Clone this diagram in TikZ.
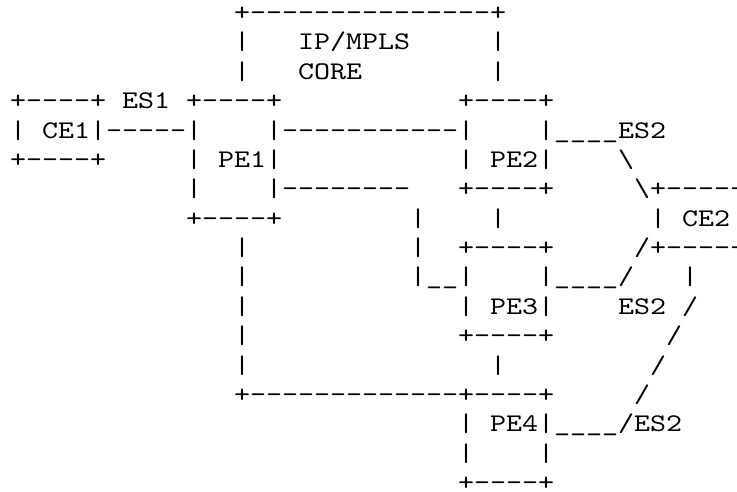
\documentclass[tikz,border=0pt]{standalone}
\usepackage{fontspec}
\setmonofont{lmmono10-regular.otf}[FakeStretch=1.2]
\tikzset{asc/.style={anchor=base west, inner sep=0pt, outer sep=0pt, text=black,
  font=\ttfamily\fontsize{25.4pt}{29.4pt}\selectfont}}
\newcommand\seg[4]{\node[asc] (#1) at (#3+0.625, #2+0.698) {#4};}
\begin{document}
\begin{tikzpicture}[x=16pt, y=-29.375pt]
\useasboundingbox (0,0) rectangle (46.0625,16.7149);
\clip (0,0) rectangle (46.0625,16.7149);
% row 0-2 : IP/MPLS core
\seg{r0a}{0}{14}{+---------------+}
\seg{r1a}{1}{14}{|}
\seg{r1b}{1}{18}{IP/MPLS}
\seg{r1c}{1}{30}{|}
\seg{r2a}{2}{14}{|}
\seg{r2b}{2}{18}{CORE}
\seg{r2c}{2}{30}{|}
% row 3
\seg{r3a}{3}{0}{+----+ ES1 +----+}
\seg{r3b}{3}{28}{+----+}
% row 4
\seg{r4a}{4}{0}{| CE1|-----|}
\seg{r4b}{4}{16}{|-----------|}
\seg{r4c}{4}{33}{|\_\_\_\_ES2}
% row 5
\seg{r5a}{5}{0}{+----+}
\seg{r5b}{5}{11}{| PE1|}
\seg{r5c}{5}{28}{| PE2|}
\seg{r5d}{5}{38}{\textbackslash}
% row 6
\seg{r6a}{6}{11}{|}
\seg{r6b}{6}{16}{|--------}
\seg{r6c}{6}{28}{+----+}
\seg{r6d}{6}{39}{\textbackslash+-----}
% row 7
\seg{r7a}{7}{11}{+----+}
\seg{r7b}{7}{25}{|}
\seg{r7c}{7}{30}{|}
\seg{r7d}{7}{40}{| CE2}
% row 8
\seg{r8a}{8}{14}{|}
\seg{r8b}{8}{25}{|}
\seg{r8c}{8}{28}{+----+}
\seg{r8d}{8}{39}{/+-----}
% row 9
\seg{r9a}{9}{14}{|}
\seg{r9b}{9}{25}{|\_\_|}
\seg{r9c}{9}{33}{|\_\_\_\_/}
\seg{r9d}{9}{42}{|}
% row 10
\seg{r10a}{10}{14}{|}
\seg{r10b}{10}{28}{| PE3|}
\seg{r10c}{10}{38}{ES2}
\seg{r10d}{10}{42}{/}
% row 11
\seg{r11a}{11}{14}{|}
\seg{r11b}{11}{28}{+----+}
\seg{r11c}{11}{41}{/}
% row 12
\seg{r12a}{12}{14}{|}
\seg{r12b}{12}{30}{|}
\seg{r12c}{12}{40}{/}
% row 13
\seg{r13a}{13}{14}{+-------------+----+}
\seg{r13b}{13}{39}{/}
% row 14-16
\seg{r14a}{14}{28}{| PE4|\_\_\_\_/ES2}
\seg{r15a}{15}{28}{|}
\seg{r15b}{15}{33}{|}
\seg{r16a}{16}{28}{+----+}
\end{tikzpicture}
\end{document}
